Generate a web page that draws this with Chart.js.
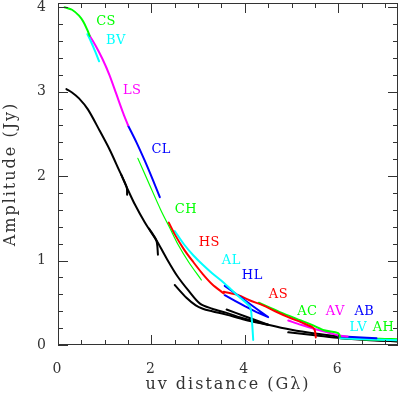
<!DOCTYPE html>
<html>
<head>
<meta charset="utf-8">
<script src="https://cdn.jsdelivr.net/npm/chart.js@4/dist/chart.umd.min.js"></script>
<style>
  html, body { margin: 0; padding: 0; background: #fff; }
</style>
</head>
<body>
<canvas id="uvplot" width="400" height="396"></canvas>
<script>
// baseline tracks, uv distance (G lambda) vs amplitude (Jy)
const CS_uv = [0.14, 0.3, 0.45, 0.54, 0.62, 0.68];
const CS_amp = [4.0, 3.97, 3.9, 3.83, 3.74, 3.66];
const BV_uv = [0.63, 0.7, 0.77, 0.83, 0.88];
const BV_amp = [3.68, 3.6, 3.51, 3.43, 3.36];
const LS_uv = [0.66, 0.8, 0.95, 1.1, 1.25, 1.4, 1.5];
const LS_amp = [3.68, 3.55, 3.39, 3.2, 2.97, 2.74, 2.6];
const CL_uv = [1.5, 1.68, 1.86, 2.02, 2.18];
const CL_amp = [2.6, 2.4, 2.18, 1.97, 1.75];
const CH_uv = [1.71, 1.95, 2.2, 2.4, 2.57, 2.8, 3.07];
const CH_amp = [2.21, 1.91, 1.6, 1.38, 1.19, 0.98, 0.77];
const HS_uv = [2.37, 2.5, 2.7, 2.9, 3.1, 3.3, 3.55];
const HS_amp = [1.45, 1.31, 1.13, 0.98, 0.84, 0.72, 0.61];
const AL_uv = [2.5, 2.7, 2.9, 3.1, 3.3, 3.5, 3.7, 3.9, 4.11, 4.15, 4.18];
const AL_amp = [1.35, 1.19, 1.06, 0.95, 0.85, 0.76, 0.66, 0.56, 0.45, 0.3, 0.06];
const HL_uv = [3.57, 3.8, 4.0, 4.25, 4.5, 4.25, 4.0, 3.8, 3.57];
const HL_amp = [0.70, 0.61, 0.53, 0.43, 0.33, 0.39, 0.46, 0.52, 0.59];
const AS_uv = [3.55, 3.86, 4.1, 4.39, 4.65, 4.93, 5.2, 5.45, 5.5, 5.52];
const AS_amp = [0.63, 0.59, 0.53, 0.47, 0.4, 0.33, 0.27, 0.21, 0.17, 0.09];
const AC_uv = [4.3, 4.75, 5.2, 5.45, 5.7, 6.0, 6.04];
const AC_amp = [0.5, 0.39, 0.29, 0.235, 0.175, 0.14, 0.1];
const AV_uv = [4.93, 5.2, 5.5, 5.8, 6.0, 6.2];
const AV_amp = [0.29, 0.24, 0.19, 0.145, 0.115, 0.1];
const AB_uv = [6.0, 6.4, 6.82];
const AB_amp = [0.105, 0.092, 0.08];
const LV_uv = [6.04, 6.6, 7.28];
const LV_amp = [0.08, 0.068, 0.055];
const AH_uv = [6.04, 6.5, 7.0, 7.28];
const AH_amp = [0.09, 0.075, 0.066, 0.062];

// black (second source) tracks
const K1_uv = [0.18, 0.3, 0.45, 0.64, 0.89, 1.11, 1.3, 1.47, 1.48];
const K1_amp = [3.03, 2.99, 2.92, 2.79, 2.54, 2.31, 2.08, 1.87, 1.78];
const K2_uv = [1.35, 1.47, 1.65, 1.86, 2.0, 2.11, 2.14];
const K2_amp = [2.02, 1.87, 1.66, 1.45, 1.33, 1.23, 1.07];
const K3_uv = [1.95, 2.1, 2.32, 2.55, 2.8, 3.04, 3.3, 3.61, 4.0, 4.5, 5.0, 5.5, 6.0, 6.5, 7.28];
const K3_amp = [1.38, 1.25, 1.03, 0.82, 0.64, 0.49, 0.43, 0.38, 0.31, 0.24, 0.18, 0.135, 0.1, 0.07, 0.04];
const K4_uv = [2.5, 2.75, 2.95, 3.1, 3.3, 3.6, 4.0, 4.5];
const K4_amp = [0.71, 0.56, 0.47, 0.43, 0.4, 0.36, 0.3, 0.24];
const K5_uv = [3.61, 4.0, 4.5];
const K5_amp = [0.42, 0.34, 0.24];
const K6_uv = [4.93, 5.5, 6.05, 6.6, 7.28];
const K6_amp = [0.15, 0.115, 0.08, 0.06, 0.045];

// baseline name labels, placed in data units
const labelNames = ['CS', 'BV', 'LS', 'CL', 'CH', 'HS', 'AL', 'HL', 'AS', 'AC', 'AV', 'AB', 'LV', 'AH'];
const labelUV = [1.03, 1.24, 1.59, 2.21, 2.74, 3.24, 3.71, 4.16, 4.72, 5.34, 5.94, 6.56, 6.43, 6.97];
const labelAmp = [3.83, 3.61, 3.01, 2.31, 1.60, 1.21, 0.995, 0.82, 0.60, 0.40, 0.40, 0.40, 0.21, 0.21];

const GREEN = '#00ff00', CYAN = '#00ffff', MAGENTA = '#ff00ff', BLUE = '#0000ff', RED = '#ff0000';
const colorOf = {
    CS: GREEN, BV: CYAN, LS: MAGENTA, CL: BLUE, CH: GREEN, HS: RED, AL: CYAN,
    HL: BLUE, AS: RED, AC: GREEN, AV: MAGENTA, AB: BLUE, LV: CYAN, AH: GREEN
};
const FONT = 'DejaVu Serif';
const AXIS_COLOR = '#333';

const pts = (xs, ys) => xs.map((x, i) => ({ x, y: ys[i] }));

const track = (name, xs, ys, extra = {}) => ({
    label: name,
    data: pts(xs, ys),
    showLine: true,
    borderColor: colorOf[name],
    borderWidth: 2,
    order: 1,
    ...extra
});
const black = (xs, ys) => ({
    data: pts(xs, ys),
    showLine: true,
    borderColor: '#000',
    borderWidth: 2,
    order: 2
});

const datasets = [
    track('CS', CS_uv, CS_amp),
    track('BV', BV_uv, BV_amp),
    track('LS', LS_uv, LS_amp),
    track('CL', CL_uv, CL_amp),
    track('CH', CH_uv, CH_amp, { borderWidth: 1.2 }),
    track('HS', HS_uv, HS_amp),
    track('AL', AL_uv, AL_amp),
    track('HL', HL_uv, HL_amp, { tension: 0 }),
    track('AS', AS_uv, AS_amp),
    track('AC', AC_uv, AC_amp),
    track('AV', AV_uv, AV_amp),
    track('AB', AB_uv, AB_amp),
    track('LV', LV_uv, LV_amp),
    track('AH', AH_uv, AH_amp, { borderWidth: 3 }),
    black(K1_uv, K1_amp),
    black(K2_uv, K2_amp),
    black(K3_uv, K3_amp),
    black(K4_uv, K4_amp),
    black(K5_uv, K5_amp),
    black(K6_uv, K6_amp)
];

const near = (v, step) => Math.abs(v / step - Math.round(v / step)) < 1e-6;

// wide letter spacing, close to the old plotting font
const spacing = {
    id: 'spacing',
    beforeDraw(chart) { chart.ctx.letterSpacing = '2px'; },
    afterDraw(chart) { chart.ctx.letterSpacing = '0px'; }
};

// pgplot style box: frame plus inward ticks on all four sides
const frameTicks = {
    id: 'frameTicks',
    afterDatasetsDraw(chart) {
        const { ctx, chartArea: a, scales: { x, y } } = chart;
        ctx.save();
        ctx.strokeStyle = AXIS_COLOR;
        ctx.lineWidth = 1;
        ctx.strokeRect(a.left + 0.5, a.top + 0.5, a.right - a.left - 1, a.bottom - a.top - 1);
        ctx.beginPath();
        x.ticks.forEach(t => {
            if (!near(t.value, 0.5)) return;
            const len = near(t.value, 2) ? 10 : 5;
            const px = Math.round(x.getPixelForValue(t.value)) + 0.5;
            ctx.moveTo(px, a.bottom); ctx.lineTo(px, a.bottom - len);
            ctx.moveTo(px, a.top); ctx.lineTo(px, a.top + len);
        });
        y.ticks.forEach(t => {
            if (!near(t.value, 0.2)) return;
            const len = near(t.value, 1) ? 10 : 5;
            const py = Math.round(y.getPixelForValue(t.value)) + 0.5;
            ctx.moveTo(a.left, py); ctx.lineTo(a.left + len, py);
            ctx.moveTo(a.right, py); ctx.lineTo(a.right - len, py);
        });
        ctx.stroke();

        ctx.letterSpacing = '0.5px';
        ctx.font = `13px "${FONT}"`;
        ctx.textAlign = 'center';
        ctx.textBaseline = 'middle';
        labelNames.forEach((name, i) => {
            ctx.fillStyle = colorOf[name];
            ctx.fillText(name, x.getPixelForValue(labelUV[i]), y.getPixelForValue(labelAmp[i]));
        });
        ctx.restore();
    }
};

new Chart('uvplot', {
    type: 'scatter',
    data: { datasets },
    options: {
        responsive: false,
        animation: false,
        layout: { padding: { top: 3, right: 2, left: 0, bottom: 0 } },
        elements: {
            point: { radius: 0 },
            line: { tension: 0.3, borderCapStyle: 'round', borderJoinStyle: 'round' }
        },
        plugins: { legend: { display: false }, tooltip: { enabled: false } },
        scales: {
            x: {
                type: 'linear', min: 0, max: 7.28,
                border: { display: false },
                grid: { display: false, drawTicks: false },
                ticks: {
                    stepSize: 0.5, includeBounds: false, autoSkip: false, maxRotation: 0,
                    padding: 16, color: AXIS_COLOR, font: { family: FONT, size: 14 },
                    callback: v => near(v, 2) ? String(Math.round(v)) : ''
                },
                title: {
                    display: true, text: 'uv distance (Gλ)', color: AXIS_COLOR,
                    font: { family: FONT, size: 16 }, padding: { top: 0, bottom: 2 }
                },
                afterFit: s => { s.height = 51; s.paddingLeft = 0; s.paddingRight = 0; }
            },
            y: {
                type: 'linear', min: 0, max: 4.05,
                border: { display: false },
                grid: { display: false, drawTicks: false },
                ticks: {
                    stepSize: 0.2, includeBounds: false, autoSkip: false,
                    padding: 10, color: AXIS_COLOR, font: { family: FONT, size: 14 },
                    callback: v => near(v, 1) ? String(Math.round(v)) : ''
                },
                title: {
                    display: true, text: 'Amplitude (Jy)', color: AXIS_COLOR,
                    font: { family: FONT, size: 16 }, padding: { top: 1, bottom: 0 }
                },
                afterFit: s => { s.width = 58; s.paddingTop = 0; s.paddingBottom = 0; }
            }
        }
    },
    plugins: [spacing, frameTicks]
});
</script>
</body>
</html>
